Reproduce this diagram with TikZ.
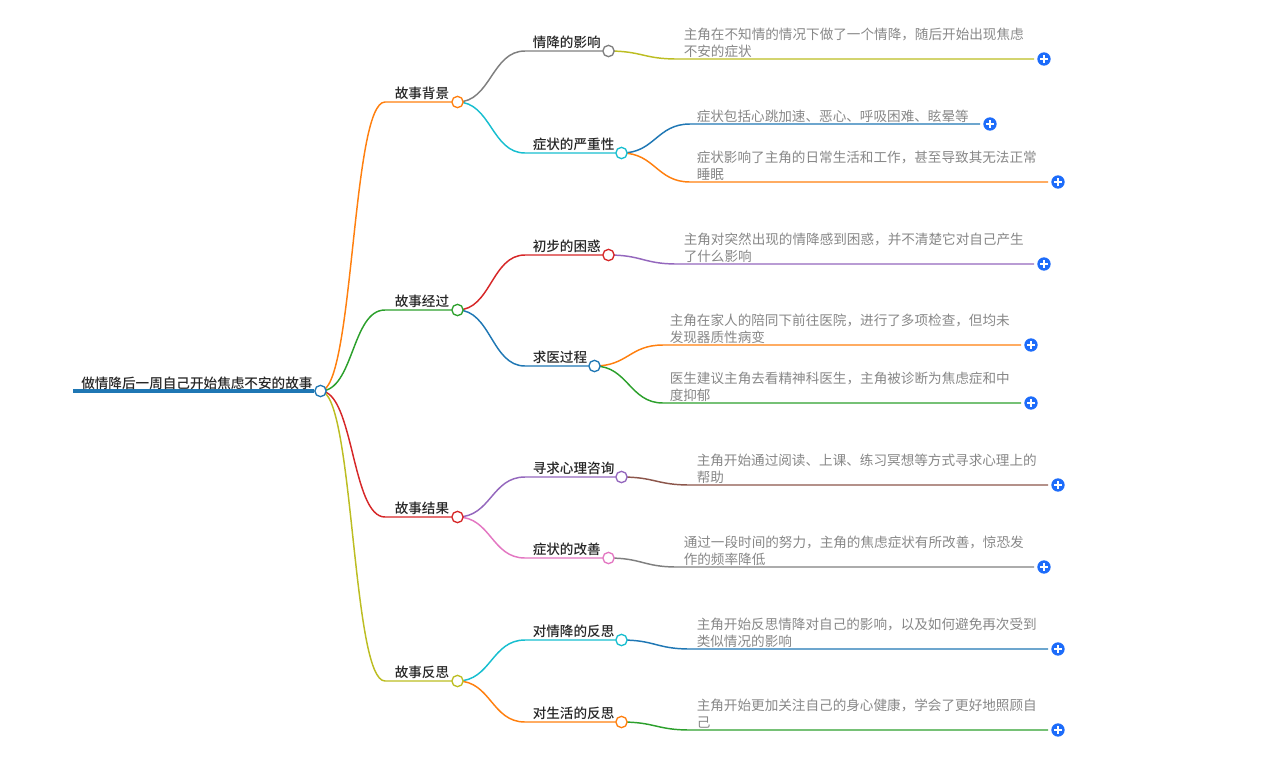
\documentclass[tikz,border=0pt]{standalone}
\usepackage{fontspec}
\setmainfont{Noto Sans CJK SC}[BoldFont={Noto Sans CJK SC Medium}]
\usetikzlibrary{backgrounds}
\definecolor{cblue}{HTML}{1F77B4}
\definecolor{corange}{HTML}{FF7F0E}
\definecolor{cgreen}{HTML}{2CA02C}
\definecolor{cred}{HTML}{D62728}
\definecolor{cpurple}{HTML}{9467BD}
\definecolor{cbrown}{HTML}{8C564B}
\definecolor{cpink}{HTML}{E377C2}
\definecolor{cgray}{HTML}{7F7F7F}
\definecolor{colive}{HTML}{BCBD22}
\definecolor{ccyan}{HTML}{17BECF}
\definecolor{cplus}{HTML}{1D6CFA}
\tikzset{
  dot/.style={circle, draw=#1, fill=white, line width=1pt, minimum size=8.5pt, inner sep=0pt},
  topic/.style={anchor=south west, inner sep=0pt, font=\fontsize{10.2pt}{12pt}\selectfont\bfseries, text=black!85},
  leaf/.style={anchor=south west, inner sep=0pt, align=left, font=\fontsize{10.2pt}{13pt}\selectfont, text=black!47},
  plus/.style={circle, fill=cplus, minimum size=10pt, inner sep=0pt,
    path picture={\draw[white, line width=0.9pt] ([xshift=-2.8pt]path picture bounding box.center) -- ([xshift=2.8pt]path picture bounding box.center);
      \draw[white, line width=0.9pt] ([yshift=-2.8pt]path picture bounding box.center) -- ([yshift=2.8pt]path picture bounding box.center);}},
  link/.style={draw=#1, line width=1.1pt, out=0, in=180, out distance=25pt, in distance=25pt}
}
\begin{document}
\begin{tikzpicture}[x=0.75pt, y=-0.75pt]
    \useasboundingbox (0,0) rectangle (1283,758);

    % Define root
    \coordinate (S) at (73,391);
    \node[dot=cblue] (R) at (320.5,391) {};
    \node[topic] (RT) at (81,390) {做情降后一周自己开始焦虑不安的故事};

    % Define first level
    \node[dot=corange] (A) at (457.5,102) {}; % background
    \node[dot=cgreen] (B) at (457.5,310) {}; % process
    \node[dot=cred] (C) at (457.5,517) {}; % result
    \node[dot=colive] (D) at (457.5,681) {}; % reflection
    \coordinate (A0) at (385,102);
    \coordinate (B0) at (385,310);
    \coordinate (C0) at (385,517);
    \coordinate (D0) at (385,681);
    \node[topic] (AT) at (394.5,100) {故事背景};
    \node[topic] (BT) at (394.5,308) {故事经过};
    \node[topic] (CT) at (394.5,515) {故事结果};
    \node[topic] (DT) at (394.5,679) {故事反思};

    % Define second level
    \node[dot=cgray] (A1) at (608.5,51) {};
    \node[dot=ccyan] (A2) at (621.5,153) {};
    \node[dot=cred] (B1) at (608.5,255) {};
    \node[dot=cblue] (B2) at (594.5,366) {};
    \node[dot=cpurple] (C1) at (621.5,477) {};
    \node[dot=cpink] (C2) at (608.5,558) {};
    \node[dot=ccyan] (D1) at (621.5,640) {};
    \node[dot=corange] (D2) at (621.5,722) {};
    \coordinate (A10) at (525,51);
    \coordinate (A20) at (525,153);
    \coordinate (B10) at (525,255);
    \coordinate (B20) at (525,366);
    \coordinate (C10) at (525,477);
    \coordinate (C20) at (525,558);
    \coordinate (D10) at (525,640);
    \coordinate (D20) at (525,722);
    \node[topic] (A1T) at (532.5,49) {情降的影响};
    \node[topic] (A2T) at (532.5,151) {症状的严重性};
    \node[topic] (B1T) at (532.5,253) {初步的困惑};
    \node[topic] (B2T) at (532.5,364) {求医过程};
    \node[topic] (C1T) at (532.5,475) {寻求心理咨询};
    \node[topic] (C2T) at (532.5,556) {症状的改善};
    \node[topic] (D1T) at (532.5,638) {对情降的反思};
    \node[topic] (D2T) at (532.5,720) {对生活的反思};

    % Define leaves
    \node[plus] (P1) at (1044,59) {};
    \node[plus] (P2) at (990,124) {};
    \node[plus] (P3) at (1058,182) {};
    \node[plus] (P4) at (1044,264) {};
    \node[plus] (P5) at (1031,345) {};
    \node[plus] (P6) at (1031,403) {};
    \node[plus] (P7) at (1058,485) {};
    \node[plus] (P8) at (1044,567) {};
    \node[plus] (P9) at (1058,649) {};
    \node[plus] (P10) at (1058,730) {};
    \coordinate (L1) at (677,59);
    \coordinate (L2) at (690,124);
    \coordinate (L3) at (690,182);
    \coordinate (L4) at (677,264);
    \coordinate (L5) at (663,345);
    \coordinate (L6) at (663,403);
    \coordinate (L7) at (690,485);
    \coordinate (L8) at (677,567);
    \coordinate (L9) at (690,649);
    \coordinate (L10) at (690,730);
    \coordinate (E1) at (1034,59);
    \coordinate (E2) at (980,124);
    \coordinate (E3) at (1048,182);
    \coordinate (E4) at (1034,264);
    \coordinate (E5) at (1021,345);
    \coordinate (E6) at (1021,403);
    \coordinate (E7) at (1048,485);
    \coordinate (E8) at (1034,567);
    \coordinate (E9) at (1048,649);
    \coordinate (E10) at (1048,730);
    \node[leaf] (T1) at (683.5,58) {主角在不知情的情况下做了一个情降，随后开始出现焦虑\\不安的症状};
    \node[leaf] (T2) at (696.5,123) {症状包括心跳加速、恶心、呼吸困难、眩晕等};
    \node[leaf] (T3) at (696.5,181) {症状影响了主角的日常生活和工作，甚至导致其无法正常\\睡眠};
    \node[leaf] (T4) at (683.5,263) {主角对突然出现的情降感到困惑，并不清楚它对自己产生\\了什么影响};
    \node[leaf] (T5) at (669.5,344) {主角在家人的陪同下前往医院，进行了多项检查，但均未\\发现器质性病变};
    \node[leaf] (T6) at (669.5,402) {医生建议主角去看精神科医生，主角被诊断为焦虑症和中\\度抑郁};
    \node[leaf] (T7) at (696.5,484) {主角开始通过阅读、上课、练习冥想等方式寻求心理上的\\帮助};
    \node[leaf] (T8) at (683.5,566) {通过一段时间的努力，主角的焦虑症状有所改善，惊恐发\\作的频率降低};
    \node[leaf] (T9) at (696.5,648) {主角开始反思情降对自己的影响，以及如何避免再次受到\\类似情况的影响};
    \node[leaf] (T10) at (696.5,729) {主角开始更加关注自己的身心健康，学会了更好地照顾自\\己};

    % Define edges
    \begin{scope}[on background layer]
    \draw[cblue, line width=2.6pt] (S) -- (R);
    \draw[link=corange] (R.center) to (A0) -- (A);
    \draw[link=cgreen] (R.center) to (B0) -- (B);
    \draw[link=cred] (R.center) to (C0) -- (C);
    \draw[link=colive] (R.center) to (D0) -- (D);
    \draw[link=cgray] (A.center) to (A10) -- (A1);
    \draw[link=ccyan] (A.center) to (A20) -- (A2);
    \draw[link=cred] (B.center) to (B10) -- (B1);
    \draw[link=cblue] (B.center) to (B20) -- (B2);
    \draw[link=cpurple] (C.center) to (C10) -- (C1);
    \draw[link=cpink] (C.center) to (C20) -- (C2);
    \draw[link=ccyan] (D.center) to (D10) -- (D1);
    \draw[link=corange] (D.center) to (D20) -- (D2);
    \draw[link=colive] (A1.center) to (L1) -- (E1);
    \draw[link=cblue] (A2.center) to (L2) -- (E2);
    \draw[link=corange] (A2.center) to (L3) -- (E3);
    \draw[link=cpurple] (B1.center) to (L4) -- (E4);
    \draw[link=corange] (B2.center) to (L5) -- (E5);
    \draw[link=cgreen] (B2.center) to (L6) -- (E6);
    \draw[link=cbrown] (C1.center) to (L7) -- (E7);
    \draw[link=cgray] (C2.center) to (L8) -- (E8);
    \draw[link=cblue] (D1.center) to (L9) -- (E9);
    \draw[link=cgreen] (D2.center) to (L10) -- (E10);
    \end{scope}
\end{tikzpicture}
\end{document}
